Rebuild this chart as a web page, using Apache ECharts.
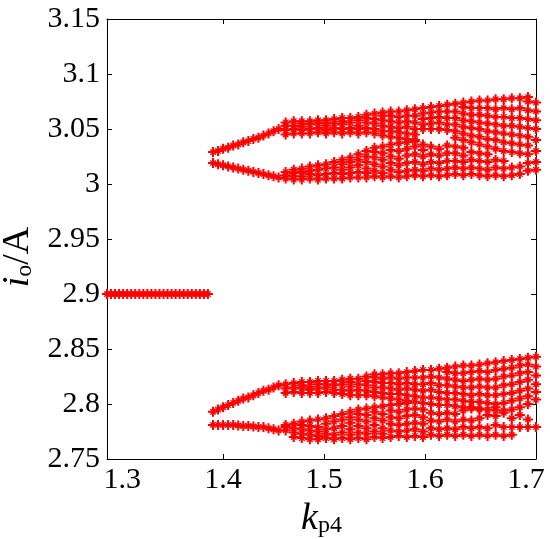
<!DOCTYPE html>
<html>
<head>
<meta charset="utf-8">
<script src="https://cdn.jsdelivr.net/npm/echarts@6/dist/echarts.min.js"></script>
<style>
  html, body { margin: 0; padding: 0; background: #fff; }
  #chart { width: 550px; height: 539px; }
</style>
</head>
<body>
<div id="chart"></div>
<script>
// x tick labels / y tick range
const xLabels = [1.3, 1.4, 1.5, 1.6, 1.7];
const xTicks = [1.4, 1.5, 1.6];

// period-1 region
const kSingle = [1.285, 1.289, 1.293, 1.297, 1.301, 1.305, 1.309, 1.313, 1.317, 1.321, 1.325, 1.329, 1.333,
  1.337, 1.341, 1.345, 1.349, 1.353, 1.357, 1.361, 1.365, 1.369, 1.373, 1.377, 1.381, 1.385];
const ioSingle = [2.9, 2.9, 2.9, 2.9, 2.9, 2.9, 2.9, 2.9, 2.9, 2.9, 2.9, 2.9, 2.9,
  2.9, 2.9, 2.9, 2.9, 2.9, 2.9, 2.9, 2.9, 2.9, 2.9, 2.9, 2.9, 2.9];

// period-4 region: four clean branches
const kLine = [1.39, 1.395, 1.40, 1.405, 1.41, 1.415, 1.42, 1.425, 1.43, 1.435, 1.44, 1.445, 1.45, 1.455];
const lineA = [3.029, 3.030, 3.032, 3.033, 3.035, 3.036, 3.038, 3.039, 3.041, 3.042, 3.044, 3.046, 3.048, 3.050];
const lineB = [3.019, 3.018, 3.017, 3.016, 3.015, 3.014, 3.013, 3.012, 3.011, 3.010, 3.009, 3.008, 3.007, 3.006];
const lineC = [2.793, 2.795, 2.797, 2.799, 2.801, 2.803, 2.805, 2.806, 2.808, 2.810, 2.812, 2.813, 2.815, 2.817];
const lineD = [2.781, 2.781, 2.781, 2.781, 2.781, 2.7805, 2.780, 2.780, 2.7795, 2.779, 2.779, 2.778, 2.777, 2.776];

// banded region: samples per column
const kBand = [1.462, 1.470, 1.478, 1.486, 1.494, 1.502, 1.510, 1.518, 1.526, 1.534, 1.542, 1.550, 1.558, 1.566,
  1.574, 1.582, 1.590, 1.598, 1.606, 1.614, 1.622, 1.630, 1.638, 1.646, 1.654, 1.662, 1.670, 1.678,
  1.686, 1.694, 1.702, 1.710];
const bandU1 = [
  [3.045, 3.049, 3.053, 3.056], [3.046, 3.050, 3.053, 3.057], [3.046, 3.049, 3.052, 3.055, 3.057],
  [3.046, 3.050, 3.054, 3.057], [3.047, 3.051, 3.055, 3.058], [3.046, 3.049, 3.053, 3.056, 3.058],
  [3.047, 3.051, 3.055, 3.059], [3.046, 3.050, 3.054, 3.057, 3.060], [3.047, 3.051, 3.056, 3.060],
  [3.046, 3.050, 3.053, 3.058, 3.061], [3.047, 3.051, 3.056, 3.060, 3.063], [3.046, 3.050, 3.055, 3.059, 3.064],
  [3.044, 3.048, 3.053, 3.058, 3.062, 3.065], [3.043, 3.048, 3.052, 3.057, 3.062, 3.066],
  [3.042, 3.047, 3.051, 3.056, 3.061, 3.066], [3.041, 3.046, 3.052, 3.057, 3.062, 3.067],
  [3.040, 3.045, 3.050, 3.056, 3.062, 3.068], [3.050, 3.054, 3.059, 3.064, 3.069],
  [3.050, 3.055, 3.060, 3.065, 3.070], [3.050, 3.056, 3.061, 3.066, 3.071],
  [3.049, 3.054, 3.060, 3.066, 3.072], [3.042, 3.048, 3.054, 3.060, 3.066, 3.073],
  [3.040, 3.046, 3.052, 3.058, 3.064, 3.070, 3.074], [3.038, 3.044, 3.051, 3.057, 3.063, 3.069, 3.075],
  [3.036, 3.043, 3.050, 3.056, 3.063, 3.069, 3.076], [3.034, 3.041, 3.048, 3.055, 3.062, 3.069, 3.076],
  [3.032, 3.040, 3.047, 3.054, 3.061, 3.068, 3.077], [3.030, 3.038, 3.046, 3.053, 3.061, 3.069, 3.077],
  [3.029, 3.037, 3.045, 3.053, 3.060, 3.068, 3.078], [3.028, 3.036, 3.044, 3.052, 3.060, 3.069, 3.078],
  [3.027, 3.035, 3.043, 3.051, 3.059, 3.067, 3.075, 3.079], [3.030, 3.040, 3.050, 3.058, 3.066, 3.074]
];
const bandU2 = [
  [3.005, 3.008, 3.011], [3.004, 3.007, 3.010, 3.013], [3.004, 3.007, 3.011, 3.014],
  [3.005, 3.009, 3.012, 3.016], [3.004, 3.008, 3.013, 3.017], [3.005, 3.009, 3.014, 3.018],
  [3.005, 3.010, 3.015, 3.020], [3.005, 3.009, 3.013, 3.018, 3.022], [3.006, 3.010, 3.015, 3.020, 3.024],
  [3.006, 3.011, 3.017, 3.022, 3.027], [3.006, 3.010, 3.014, 3.020, 3.025, 3.030],
  [3.007, 3.012, 3.018, 3.024, 3.029, 3.033], [3.006, 3.010, 3.016, 3.022, 3.028, 3.034],
  [3.007, 3.013, 3.019, 3.025, 3.031, 3.036], [3.006, 3.011, 3.017, 3.023, 3.030, 3.037],
  [3.007, 3.012, 3.019, 3.026, 3.032, 3.038], [3.008, 3.013, 3.020, 3.027, 3.034, 3.039],
  [3.007, 3.012, 3.018, 3.025, 3.031, 3.036], [3.008, 3.014, 3.020, 3.027, 3.034],
  [3.007, 3.013, 3.019, 3.026, 3.032], [3.008, 3.014, 3.021, 3.028, 3.035],
  [3.009, 3.015, 3.021, 3.028, 3.034], [3.008, 3.014, 3.020, 3.026, 3.033],
  [3.009, 3.015, 3.022, 3.029], [3.008, 3.014, 3.021, 3.028], [3.007, 3.013, 3.020, 3.027],
  [3.008, 3.015, 3.022], [3.007, 3.014, 3.021], [3.008, 3.015], [3.009, 3.016], [3.012, 3.019], [3.013, 3.020]
];
const bandL1 = [
  [2.810, 2.814, 2.818], [2.811, 2.815, 2.819], [2.810, 2.814, 2.817, 2.820], [2.810, 2.813, 2.816, 2.820],
  [2.810, 2.814, 2.818, 2.821], [2.811, 2.815, 2.818, 2.821], [2.810, 2.813, 2.817, 2.821],
  [2.809, 2.813, 2.818, 2.822], [2.808, 2.812, 2.816, 2.820, 2.823], [2.808, 2.813, 2.818, 2.823],
  [2.808, 2.812, 2.817, 2.821, 2.825], [2.807, 2.811, 2.815, 2.820, 2.824, 2.827],
  [2.806, 2.810, 2.815, 2.819, 2.823, 2.827], [2.805, 2.809, 2.814, 2.819, 2.824, 2.828],
  [2.804, 2.809, 2.813, 2.818, 2.823, 2.828], [2.803, 2.808, 2.814, 2.819, 2.824, 2.829],
  [2.802, 2.807, 2.813, 2.818, 2.824, 2.830], [2.801, 2.806, 2.812, 2.818, 2.824, 2.831],
  [2.800, 2.806, 2.813, 2.819, 2.825, 2.831], [2.799, 2.805, 2.811, 2.817, 2.824, 2.832],
  [2.799, 2.804, 2.810, 2.817, 2.823, 2.829, 2.833], [2.798, 2.804, 2.810, 2.816, 2.822, 2.828, 2.834],
  [2.797, 2.803, 2.809, 2.815, 2.821, 2.828, 2.835], [2.796, 2.802, 2.808, 2.815, 2.822, 2.829, 2.835],
  [2.796, 2.802, 2.809, 2.816, 2.823, 2.830, 2.836], [2.795, 2.801, 2.808, 2.815, 2.822, 2.829, 2.837],
  [2.794, 2.800, 2.808, 2.815, 2.823, 2.831, 2.838], [2.794, 2.801, 2.809, 2.817, 2.825, 2.832, 2.839],
  [2.795, 2.803, 2.810, 2.818, 2.826, 2.833, 2.840], [2.797, 2.805, 2.812, 2.820, 2.828, 2.835, 2.841],
  [2.800, 2.807, 2.814, 2.822, 2.829, 2.836, 2.842], [2.804, 2.811, 2.818, 2.826, 2.834, 2.843]
];
const bandL2 = [
  [2.776, 2.779, 2.781], [2.770, 2.774, 2.778, 2.782], [2.769, 2.773, 2.777, 2.781, 2.784],
  [2.768, 2.772, 2.776, 2.780, 2.785], [2.768, 2.771, 2.775, 2.779, 2.786], [2.769, 2.773, 2.777, 2.782, 2.787],
  [2.768, 2.772, 2.778, 2.784, 2.789], [2.769, 2.774, 2.780, 2.786, 2.791],
  [2.768, 2.772, 2.777, 2.783, 2.788, 2.793], [2.769, 2.774, 2.780, 2.786, 2.791, 2.795],
  [2.768, 2.773, 2.778, 2.784, 2.790, 2.796], [2.770, 2.775, 2.781, 2.787, 2.793, 2.797],
  [2.769, 2.773, 2.778, 2.785, 2.791, 2.798], [2.770, 2.776, 2.782, 2.788, 2.794, 2.799],
  [2.771, 2.775, 2.781, 2.787, 2.793, 2.800], [2.770, 2.776, 2.782, 2.789, 2.795, 2.801],
  [2.771, 2.777, 2.783, 2.790, 2.796], [2.770, 2.775, 2.782, 2.788, 2.795], [2.772, 2.778, 2.785, 2.792],
  [2.771, 2.777, 2.784, 2.791], [2.772, 2.778, 2.786, 2.792], [2.771, 2.777, 2.784, 2.791],
  [2.772, 2.779, 2.786, 2.794], [2.771, 2.778, 2.785, 2.797], [2.772, 2.779, 2.787, 2.795],
  [2.771, 2.778, 2.790], [2.772, 2.781, 2.789, 2.797], [2.771, 2.779, 2.792], [2.772, 2.779, 2.787],
  [2.779, 2.790], [2.779, 2.786], [2.779]
];

const red = "#ff0000";
const fontFamily = "'Liberation Serif', 'Times New Roman', serif";
// matlab style '*' marker: long plus arms, shorter diagonals
const asterisk = "path://M8 0H12V20H8Z M0 8H20V12H0Z " +
  "M3.6 5.4L5.4 3.6L16.4 14.6L14.6 16.4Z M14.6 3.6L16.4 5.4L5.4 16.4L3.6 14.6Z";

function collectPoints() {
  const pts = [];
  kSingle.forEach((k, i) => pts.push([k, ioSingle[i]]));
  kLine.forEach((k, i) => {
    pts.push([k, lineA[i]], [k, lineB[i]], [k, lineC[i]], [k, lineD[i]]);
  });
  [bandU1, bandU2, bandL1, bandL2].forEach((band) => {
    band.forEach((col, i) => col.forEach((y) => pts.push([kBand[i], y])));
  });
  return pts;
}

const chart = echarts.init(document.getElementById("chart"));

const frameAxis = {
  axisLine: { show: true, onZero: false, lineStyle: { color: "#000", width: 1 } },
  axisTick: { show: true, inside: true, length: 5, lineStyle: { color: "#000" } },
  splitLine: { show: false },
};

chart.setOption({
  animation: false,
  backgroundColor: "#fff",
  grid: { left: 107, right: 14, top: 19, bottom: 80, outerBoundsMode: "none" },
  xAxis: [
    {
      ...frameAxis,
      type: "value",
      min: 1.285,
      max: 1.71,
      axisTick: { ...frameAxis.axisTick, customValues: xTicks },
      axisLabel: {
        customValues: xLabels,
        formatter: (v) => String(+v.toFixed(2)),
        color: "#000",
        fontFamily,
        fontSize: 30,
        margin: 6,
      },
      name: "{i|k}{s|p4}",
      nameLocation: "middle",
      nameGap: 36,
      nameTextStyle: {
        rich: {
          i: { fontFamily, fontStyle: "italic", fontSize: 38, color: "#000" },
          s: { fontFamily, fontSize: 24, color: "#000", padding: [14, 0, 0, 0] },
        },
      },
    },
    {
      ...frameAxis,
      type: "value",
      position: "top",
      min: 1.285,
      max: 1.71,
      axisTick: { ...frameAxis.axisTick, customValues: xTicks },
      axisLabel: { show: false },
    },
  ],
  yAxis: [
    {
      ...frameAxis,
      type: "value",
      min: 2.75,
      max: 3.15,
      interval: 0.05,
      axisLabel: {
        formatter: (v) => String(+v.toFixed(2)),
        color: "#000",
        fontFamily,
        fontSize: 30,
        margin: 7,
      },
      name: "{i|i}{s|o}{n|/A}",
      nameLocation: "middle",
      nameRotate: 90,
      nameGap: 56,
      nameTextStyle: {
        padding: [0, 36, 0, 0],
        rich: {
          i: { fontFamily, fontStyle: "italic", fontSize: 38, color: "#000" },
          s: { fontFamily, fontSize: 24, color: "#000", padding: [14, 0, 0, 0] },
          n: { fontFamily, fontSize: 38, color: "#000" },
        },
      },
    },
    {
      ...frameAxis,
      type: "value",
      position: "right",
      min: 2.75,
      max: 3.15,
      interval: 0.05,
      axisLabel: { show: false },
    },
  ],
  series: [
    {
      type: "scatter",
      xAxisIndex: 0,
      yAxisIndex: 0,
      clip: false,
      symbol: asterisk,
      symbolSize: 10,
      itemStyle: { color: red, opacity: 1 },
      data: collectPoints(),
    },
  ],
});
</script>
</body>
</html>
